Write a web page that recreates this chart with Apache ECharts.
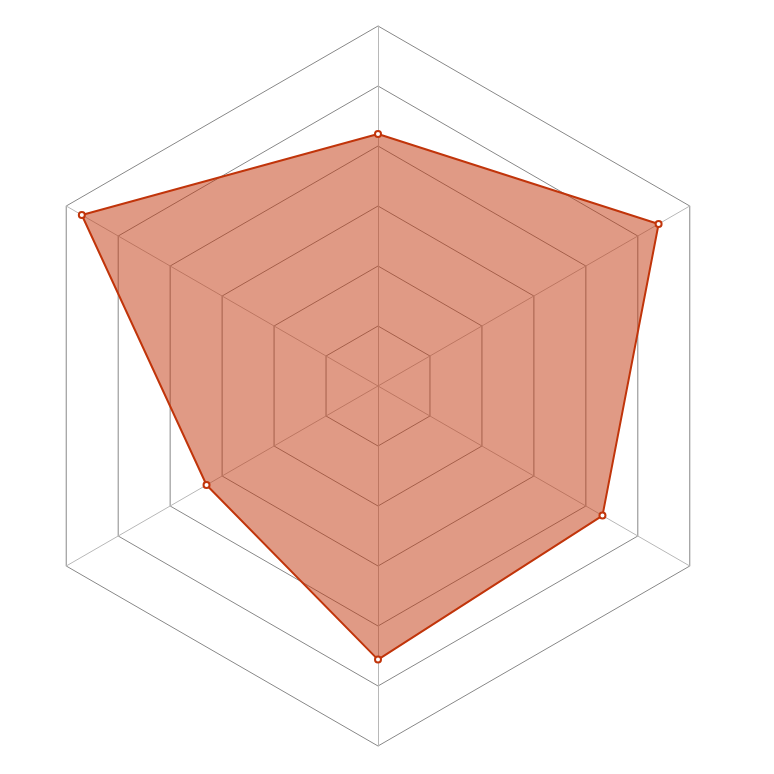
<!DOCTYPE html>
<html>
<head>
<meta charset="utf-8">
<script src="https://cdn.jsdelivr.net/npm/echarts@6/dist/echarts.min.js"></script>
<style>
  html, body { margin: 0; padding: 0; background: #fff; }
  #chart { width: 774px; height: 774px; }
</style>
</head>
<body>
<div id="chart"></div>
<script>
// 指标（从顶部开始逆时针）
const indicatorNames = ['A', 'B', 'C', 'D', 'E', 'F']
const indicatorMax = [100, 100, 100, 100, 100, 100]
const seriesValues = [70, 95, 55, 76, 72, 90]

const myChart = echarts.init(document.getElementById('chart'))

const option = {
  animation: false,
  radar: {
    center: [378, 386],
    radius: 360,
    startAngle: 90,
    splitNumber: 6,
    shape: 'polygon',
    indicator: indicatorNames.map((name, i) => ({ name, max: indicatorMax[i] })),
    axisName: { show: false },
    axisLine: { lineStyle: { color: '#b8b8b8', width: 1 } },
    splitLine: { lineStyle: { color: '#888', width: 1 } },
    splitArea: { show: false }
  },
  series: [{
    type: 'radar',
    symbol: 'emptyCircle',
    symbolSize: 6,
    lineStyle: { color: '#c1350b', width: 2 },
    itemStyle: { color: '#c1350b', borderWidth: 1.5 },
    areaStyle: { color: '#c1350b', opacity: 0.5 },
    data: [{ value: seriesValues }]
  }]
}

myChart.setOption(option)
window.onresize = function() {
  myChart.resize()
}
</script>
</body>
</html>
